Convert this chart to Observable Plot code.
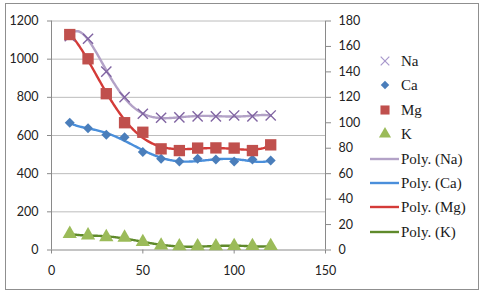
<!DOCTYPE html>
<html>
<head>
<meta charset="utf-8">
<script src="https://cdn.jsdelivr.net/npm/d3@7"></script>
<script src="https://cdn.jsdelivr.net/npm/@observablehq/plot@0.6"></script>
<style>
  html, body { margin: 0; padding: 0; background: #fff; }
  #wrap { position: relative; width: 480px; height: 293px; overflow: hidden; }
  #frame { position: absolute; left: 5px; top: 3px; width: 474px; height: 287px; box-sizing: border-box;
           border: 1.6px solid #8f8f8f; pointer-events: none; }
  .lg { position: absolute; font-family: "Liberation Serif", serif; font-size: 15px; color: #1a1a1a;
        line-height: 18px; white-space: nowrap; }
  .lg svg { position: absolute; overflow: visible; }
</style>
</head>
<body>
<div id="wrap"><div id="frame"></div></div>
<script>
// ---- data (left-axis units) ----
const depth  = [10, 20, 30, 40, 50, 60, 70, 80, 90, 100, 110, 120];
const naVals = [1120, 1107, 935, 801, 714, 693, 695, 700, 700, 705, 700, 705];
const caVals = [667, 638, 604, 591, 513, 478, 464, 478, 474, 464, 474, 469];
const mgVals = [1129, 1002, 819, 667, 617, 530, 521, 534, 535, 534, 521, 551];
const kVals  = [85, 77, 68, 65, 42, 24, 20, 20, 20, 21, 21, 21];
const seriesNames = ["Na", "Ca", "Mg", "K"];
const leftTicks  = [0, 200, 400, 600, 800, 1000, 1200];
const rightTicks = [0, 20, 40, 60, 80, 100, 120, 140, 160, 180];
const xTicks     = [0, 50, 100, 150];

const markerColor = {Na: "#8064A2", Ca: "#4A7EBB", Mg: "#C0504D", K: "#9BBB59"};
const lineColor   = {Na: "#B3A2C7", Ca: "#4A8FDB", Mg: "#D43B38", K: "#5F8A2B"};
const symbolOf    = {Na: "times", Ca: "diamond2", Mg: "square", K: "triangle"};
const rOf         = {Na: 4.7, Ca: 4.5, Mg: 6.4, K: 5.3};
const valuesOf    = {Na: naVals, Ca: caVals, Mg: mgVals, K: kVals};

// polynomial least-squares trendline (like Excel "Poly.")
function polyfit(xs, ys, deg) {
  const n = deg + 1, c0 = 65, s0 = 55;
  const A = Array.from({length: n}, () => Array(n + 1).fill(0));
  xs.forEach((x, i) => {
    const t = (x - c0) / s0;
    const p = d3.range(n).map(k => t ** k);
    for (let r = 0; r < n; r++) {
      for (let c = 0; c < n; c++) A[r][c] += p[r] * p[c];
      A[r][n] += p[r] * ys[i];
    }
  });
  for (let col = 0; col < n; col++) {
    let piv = col;
    for (let r = col + 1; r < n; r++) if (Math.abs(A[r][col]) > Math.abs(A[piv][col])) piv = r;
    [A[col], A[piv]] = [A[piv], A[col]];
    for (let r = 0; r < n; r++) {
      if (r === col) continue;
      const f = A[r][col] / A[col][col];
      for (let c = col; c <= n; c++) A[r][c] -= f * A[col][c];
    }
  }
  const coef = A.map((row, i) => row[n] / row[i]);
  return x => { const t = (x - c0) / s0; return coef.reduce((s, c, k) => s + c * t ** k, 0); };
}

const points = seriesNames.flatMap(s => depth.map((x, i) => ({s, x, y: valuesOf[s][i]})));
const grid = d3.range(depth[0], depth[depth.length - 1] + 0.001, 0.5);
const trend = seriesNames.flatMap(s => {
  const f = polyfit(depth, valuesOf[s], 6);
  return grid.map(x => ({s, x, y: f(x)}));
});

const chart = Plot.plot({
  width: 480, height: 293,
  marginLeft: 51, marginRight: 155, marginTop: 20.5, marginBottom: 43.5,
  x: {domain: [0, 150]},
  y: {domain: [0, 1200]},
  style: {fontFamily: "Lato, sans-serif", fontSize: "12.5px", color: "#222", background: "transparent"},
  marks: [
    Plot.ruleY(leftTicks.filter(d => d > 0), {stroke: "#bcbcbc", strokeWidth: 1}),
    Plot.ruleY([0], {stroke: "#8a8a8a", strokeWidth: 1}),
    Plot.ruleX([0, 150], {y1: 0, y2: 1200, stroke: "#8a8a8a", strokeWidth: 1}),
    Plot.axisY({anchor: "left", ticks: leftTicks, tickFormat: d => String(d), tickSize: 4, tickPadding: 9, label: null,
                stroke: "#8a8a8a", fill: "#222"}),
    Plot.axisY({anchor: "right", ticks: rightTicks.map(v => v * 1200 / 180),
                tickFormat: d => String(Math.round(d * 180 / 1200)), tickSize: 5, tickPadding: 8, label: null,
                stroke: "#8a8a8a", fill: "#222"}),
    Plot.axisX({ticks: xTicks, tickFormat: d => String(d), tickSize: 4, tickPadding: 12.5, label: null, stroke: "#8a8a8a", fill: "#222"}),
    ...seriesNames.map(s => Plot.line(trend.filter(d => d.s === s),
        {x: "x", y: "y", stroke: lineColor[s], strokeWidth: 2.4, curve: "linear"})),
    ...seriesNames.map(s => Plot.dot(points.filter(d => d.s === s),
        s === "Na"
          ? {x: "x", y: "y", symbol: symbolOf[s], r: rOf[s], stroke: markerColor[s], strokeWidth: 1.4, fill: "none"}
          : {x: "x", y: "y", symbol: symbolOf[s], r: rOf[s], fill: markerColor[s], stroke: "none"}))
  ]
});
const wrap = document.getElementById("wrap");
chart.style.position = "absolute";
chart.style.left = "0px";
chart.style.top = "0px";
wrap.insertBefore(chart, wrap.firstChild);

// ---- legend (HTML overlay) ----
const legendTop = 61, legendStep = 24.4;
const legendItems = [
  ...seriesNames.map(s => ({kind: "marker", s, label: s})),
  ...seriesNames.map(s => ({kind: "line", s, label: `Poly. (${s})`}))
];
legendItems.forEach((it, i) => {
  const cy = legendTop + i * legendStep;
  const div = document.createElement("div");
  div.className = "lg";
  div.style.left = "0px";
  div.style.top = (cy - 9) + "px";
  div.style.width = "480px";
  const ns = "http://www.w3.org/2000/svg";
  const svg = document.createElementNS(ns, "svg");
  svg.setAttribute("width", 30); svg.setAttribute("height", 18);
  svg.style.left = "370px"; svg.style.top = "0px";
  if (it.kind === "marker") {
    const sym = {times: d3.symbolTimes, diamond2: d3.symbolDiamond2, square: d3.symbolSquare, triangle: d3.symbolTriangle}[symbolOf[it.s]];
    const r = rOf[it.s] * (it.s === "Mg" ? 0.8 : 0.85);
    const path = document.createElementNS(ns, "path");
    path.setAttribute("d", d3.symbol(sym, Math.PI * r * r)());
    path.setAttribute("transform", "translate(15,9)");
    if (it.s === "Na") { path.setAttribute("fill", "none"); path.setAttribute("stroke", "#A898CC"); path.setAttribute("stroke-width", 1.2); }
    else path.setAttribute("fill", markerColor[it.s]);
    svg.appendChild(path);
  } else {
    const ln = document.createElementNS(ns, "line");
    ln.setAttribute("x1", 0); ln.setAttribute("x2", 29); ln.setAttribute("y1", 9); ln.setAttribute("y2", 9);
    ln.setAttribute("stroke", lineColor[it.s]); ln.setAttribute("stroke-width", 2.4);
    svg.appendChild(ln);
  }
  div.appendChild(svg);
  const span = document.createElement("span");
  span.textContent = it.label;
  span.style.position = "absolute";
  span.style.left = "401px";
  span.style.top = "0px";
  div.appendChild(span);
  wrap.appendChild(div);
});
</script>
</body>
</html>
